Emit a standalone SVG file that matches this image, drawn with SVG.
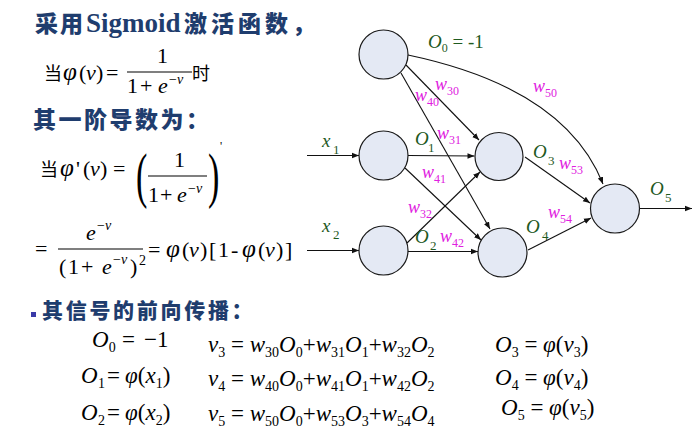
<svg xmlns="http://www.w3.org/2000/svg" width="694" height="431" viewBox="0 0 694 431">
<defs>
<style>
.cn{font-family:"Noto Sans CJK SC","Noto Sans",sans-serif;font-weight:900;fill:#1f3d6e}
.m{font-family:"Liberation Serif","Times New Roman",serif;fill:#000;font-size:22px}
.b{font-family:"Liberation Serif","Times New Roman",serif;fill:#000;font-size:23px}
.i{font-style:italic}
.s{font-size:14px}
.ph{font-style:italic;font-size:25px}
.og{font-family:"Liberation Serif","Times New Roman",serif;fill:#1f5a1f;font-size:19px}
.wl{font-family:"Liberation Serif","Times New Roman",serif;fill:#e020e0;font-size:18px;font-style:italic}
.ws{font-size:12px;font-style:normal}
.node{fill:#e4e9f4;stroke:#1a1a1a;stroke-width:1.2}
.edge{fill:none;stroke:#111;stroke-width:1.1;marker-end:url(#ah)}
.bar{stroke:#000;stroke-width:1.1}
</style>
<marker id="ah" viewBox="0 0 10 10" refX="10" refY="5" markerWidth="7" markerHeight="7" markerUnits="userSpaceOnUse" orient="auto"><path d="M0,1 L10,5 L0,9 z" fill="#111"/></marker>
</defs>
<rect width="694" height="431" fill="#fff"/>

<!-- left: titles and formulas -->
<text class="cn" y="32"><tspan x="35" font-size="23" letter-spacing="2">采用</tspan><tspan x="86" font-family="Liberation Serif, serif" font-weight="bold" font-size="27">Sigmoid</tspan><tspan x="184" font-size="23" letter-spacing="4">激活函数，</tspan></text>

<g id="f1">
<text x="44" y="80" font-family="Noto Sans CJK SC, sans-serif" font-size="18">当</text>
<text class="m" y="80"><tspan x="63" class="ph">φ</tspan><tspan x="79">(</tspan><tspan x="86" class="i">v</tspan><tspan x="96">)</tspan><tspan x="106">=</tspan></text>
<text class="m" x="157" y="63">1</text>
<line class="bar" x1="127" y1="72" x2="192" y2="72"/>
<text class="m" y="93"><tspan x="127">1</tspan><tspan x="140">+</tspan><tspan x="158" class="i">e</tspan><tspan x="169" y="84" class="s">−</tspan><tspan class="s i">v</tspan></text>
<text x="192" y="80" font-family="Noto Sans CJK SC, sans-serif" font-size="18">时</text>
</g>

<text class="cn" x="33" y="128" font-size="23" letter-spacing="2.5">其一阶导数为：</text>

<g id="f2">
<text x="40" y="176" font-family="Noto Sans CJK SC, sans-serif" font-size="18">当</text>
<text class="m" y="176"><tspan x="60" class="ph">φ</tspan><tspan x="76">'</tspan><tspan x="83">(</tspan><tspan x="90" class="i">v</tspan><tspan x="100">)</tspan><tspan x="113">=</tspan></text>
<text class="m" transform="translate(136,196) scale(0.55,1)" style="font-size:62px">(</text>
<text class="m" transform="translate(208,196) scale(0.55,1)" style="font-size:62px">)</text>
<text class="m" x="174" y="167">1</text>
<line class="bar" x1="148" y1="176" x2="207" y2="176"/>
<text class="m" y="202"><tspan x="148">1</tspan><tspan x="160">+</tspan><tspan x="177" class="i">e</tspan><tspan x="188" y="193" class="s">−</tspan><tspan class="s i">v</tspan></text>
<text class="m" x="220" y="150" style="font-size:12px">'</text>
</g>

<g id="f3">
<text class="m" x="35" y="256">=</text>
<text class="m" y="240"><tspan x="86" class="i">e</tspan><tspan x="97" y="230" class="s">−</tspan><tspan class="s i">v</tspan></text>
<line class="bar" x1="58" y1="249" x2="143" y2="249"/>
<text class="m" y="274"><tspan x="59">(</tspan><tspan x="68">1</tspan><tspan x="81">+</tspan><tspan x="102" class="i">e</tspan><tspan x="113" y="264" class="s">−</tspan><tspan class="s i">v</tspan><tspan x="130" y="274">)</tspan><tspan x="139" y="265" class="s">2</tspan></text>
<text class="m" y="257"><tspan x="148">=</tspan><tspan x="166" class="ph">φ</tspan><tspan x="182">(</tspan><tspan x="189" class="i">v</tspan><tspan x="200">)</tspan><tspan x="209">[</tspan><tspan x="218">1</tspan><tspan x="231">-</tspan><tspan x="242" class="ph">φ</tspan><tspan x="258">(</tspan><tspan x="265" class="i">v</tspan><tspan x="276">)</tspan><tspan x="285">]</tspan></text>
</g>

<rect x="31" y="312" width="5" height="5" fill="#3a3aa8"/>
<text class="cn" x="42" y="318" font-size="21" letter-spacing="2.7">其信号的前向传播：</text>

<g id="eqs">
<text class="b" y="347"><tspan x="92" class="i">O</tspan><tspan class="s" dy="5">0</tspan><tspan x="122" dy="-5">=</tspan><tspan x="144">−1</tspan></text>
<text class="b" y="383"><tspan x="81" class="i">O</tspan><tspan class="s" x="98" dy="5">1</tspan><tspan x="107" dy="-5">=</tspan><tspan x="125" class="i">φ</tspan><tspan>(</tspan><tspan class="i">x</tspan><tspan class="s" dy="5">1</tspan><tspan dy="-5">)</tspan></text>
<text class="b" y="420"><tspan x="81" class="i">O</tspan><tspan class="s" x="98" dy="5">2</tspan><tspan x="107" dy="-5">=</tspan><tspan x="125" class="i">φ</tspan><tspan>(</tspan><tspan class="i">x</tspan><tspan class="s" dy="5">2</tspan><tspan dy="-5">)</tspan></text>

<text class="b" y="352"><tspan x="208" class="i">v</tspan><tspan class="s" dy="5">3</tspan><tspan dy="-5"> = </tspan><tspan class="i">w</tspan><tspan class="s" dy="5">30</tspan><tspan class="i" dy="-5">O</tspan><tspan class="s" dy="5">0</tspan><tspan dy="-5">+</tspan><tspan class="i">w</tspan><tspan class="s" dy="5">31</tspan><tspan class="i" dy="-5">O</tspan><tspan class="s" dy="5">1</tspan><tspan dy="-5">+</tspan><tspan class="i">w</tspan><tspan class="s" dy="5">32</tspan><tspan class="i" dy="-5">O</tspan><tspan class="s" dy="5">2</tspan></text>
<text class="b" y="386"><tspan x="208" class="i">v</tspan><tspan class="s" dy="5">4</tspan><tspan dy="-5"> = </tspan><tspan class="i">w</tspan><tspan class="s" dy="5">40</tspan><tspan class="i" dy="-5">O</tspan><tspan class="s" dy="5">0</tspan><tspan dy="-5">+</tspan><tspan class="i">w</tspan><tspan class="s" dy="5">41</tspan><tspan class="i" dy="-5">O</tspan><tspan class="s" dy="5">1</tspan><tspan dy="-5">+</tspan><tspan class="i">w</tspan><tspan class="s" dy="5">42</tspan><tspan class="i" dy="-5">O</tspan><tspan class="s" dy="5">2</tspan></text>
<text class="b" y="421"><tspan x="208" class="i">v</tspan><tspan class="s" dy="5">5</tspan><tspan dy="-5"> = </tspan><tspan class="i">w</tspan><tspan class="s" dy="5">50</tspan><tspan class="i" dy="-5">O</tspan><tspan class="s" dy="5">0</tspan><tspan dy="-5">+</tspan><tspan class="i">w</tspan><tspan class="s" dy="5">53</tspan><tspan class="i" dy="-5">O</tspan><tspan class="s" dy="5">3</tspan><tspan dy="-5">+</tspan><tspan class="i">w</tspan><tspan class="s" dy="5">54</tspan><tspan class="i" dy="-5">O</tspan><tspan class="s" dy="5">4</tspan></text>

<text class="b" y="352"><tspan x="495" class="i">O</tspan><tspan class="s" dy="5">3</tspan><tspan dy="-5"> = </tspan><tspan class="i">φ</tspan><tspan>(</tspan><tspan class="i">v</tspan><tspan class="s" dy="5">3</tspan><tspan dy="-5">)</tspan></text>
<text class="b" y="385"><tspan x="495" class="i">O</tspan><tspan class="s" dy="5">4</tspan><tspan dy="-5"> = </tspan><tspan class="i">φ</tspan><tspan>(</tspan><tspan class="i">v</tspan><tspan class="s" dy="5">4</tspan><tspan dy="-5">)</tspan></text>
<text class="b" y="415"><tspan x="501" class="i">O</tspan><tspan class="s" dy="5">5</tspan><tspan dy="-5"> = </tspan><tspan class="i">φ</tspan><tspan>(</tspan><tspan class="i">v</tspan><tspan class="s" dy="5">5</tspan><tspan dy="-5">)</tspan></text>
</g>

<!-- network -->
<g id="connectors">
<path class="edge" d="M307,155.5 L359,155.5"/>
<path class="edge" d="M307,250.5 L359,250.5"/>
<path class="edge" d="M639.5,208.5 L692,208.5"/>
<path class="edge" d="M408,155.5 L474.5,156"/>
<path class="edge" d="M408,251.5 L478,251.5"/>
<path class="edge" d="M405,168 L481,240"/>
<path class="edge" d="M407,243 L480,172"/>
<path class="edge" d="M406,65 L479,140"/>
<path class="edge" d="M401,73 L490,229"/>
<path class="edge" d="M408,55 Q565,88 603,184"/>
<path class="edge" d="M525,157 L590,203"/>
<path class="edge" d="M528,250 L591,218"/>
</g>

<g id="n0"><circle class="node" cx="383.5" cy="54.5" r="24.5"/></g>
<g id="n1"><circle class="node" cx="383.5" cy="155.5" r="24.5"/></g>
<g id="n2"><circle class="node" cx="383.5" cy="250.5" r="24.5"/></g>
<g id="n3"><circle class="node" cx="499" cy="156.5" r="24"/></g>
<g id="n4"><circle class="node" cx="502.5" cy="252.5" r="24.5"/></g>
<g id="n5"><circle class="node" cx="615" cy="208.5" r="24.5"/></g>

<g id="labels">
<text class="og" x="428" y="48"><tspan class="i">O</tspan><tspan font-size="12" dy="4">0</tspan><tspan dy="-4"> = -1</tspan></text>
<text class="og" x="415" y="145"><tspan class="i">O</tspan><tspan font-size="13" x="428" dy="7">1</tspan></text>
<text class="og" x="415" y="243"><tspan class="i">O</tspan><tspan font-size="13" x="430" dy="7">2</tspan></text>
<text class="og" x="533" y="158"><tspan class="i">O</tspan><tspan font-size="13" x="548" dy="7">3</tspan></text>
<text class="og" x="526" y="233"><tspan class="i">O</tspan><tspan font-size="13" x="542" dy="7">4</tspan></text>
<text class="og" x="650" y="195"><tspan class="i">O</tspan><tspan font-size="13" x="665" dy="7">5</tspan></text>
<text class="og" x="322" y="147"><tspan class="i">x</tspan><tspan font-size="13" x="333" dy="7">1</tspan></text>
<text class="og" x="322" y="232"><tspan class="i">x</tspan><tspan font-size="13" x="333" dy="7">2</tspan></text>

<text class="wl" x="435" y="90">w<tspan class="ws" dy="5">30</tspan></text>
<text class="wl" x="415" y="101">w<tspan class="ws" dy="5">40</tspan></text>
<text class="wl" x="533" y="92">w<tspan class="ws" dy="5">50</tspan></text>
<text class="wl" x="437" y="139">w<tspan class="ws" dy="5">31</tspan></text>
<text class="wl" x="422" y="178">w<tspan class="ws" dy="5">41</tspan></text>
<text class="wl" x="408" y="213">w<tspan class="ws" dy="5">32</tspan></text>
<text class="wl" x="440" y="242">w<tspan class="ws" dy="5">42</tspan></text>
<text class="wl" x="559" y="169">w<tspan class="ws" dy="5">53</tspan></text>
<text class="wl" x="548" y="218">w<tspan class="ws" dy="5">54</tspan></text>
</g>
</svg>
